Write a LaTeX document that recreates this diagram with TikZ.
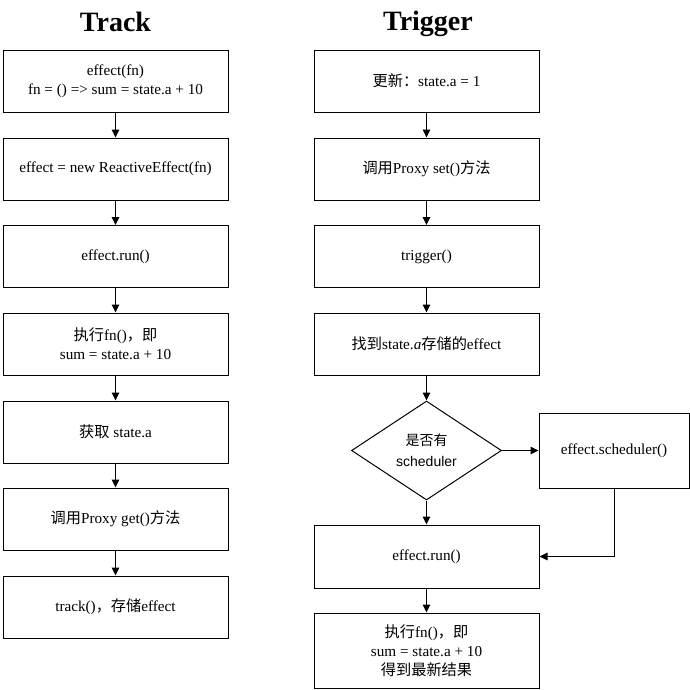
\documentclass[tikz,border=0pt]{standalone}
\usepackage{fontspec}
\setmainfont{Liberation Serif}
\setsansfont{Liberation Sans}
\newfontfamily\cjk{Noto Sans CJK SC}
\usetikzlibrary{shapes.geometric,arrows.meta}
\begin{document}
\begin{tikzpicture}[x=1pt,y=-1pt,
  box/.style={draw,line width=1pt,inner sep=0pt,minimum width=225pt,minimum height=62pt,align=center,font=\fontsize{15.2}{19}\selectfont},
  dec/.style={draw,diamond,line width=1pt,inner sep=0pt,minimum width=150pt,minimum height=99pt,align=center,font=\sffamily\fontsize{14}{21}\selectfont},
  ttl/.style={font=\bfseries\fontsize{28}{32}\selectfont,anchor=base},
  arr/.style={line width=1pt,-{Triangle[length=8pt,width=7.5pt]}}]
\useasboundingbox (0,0) rectangle (690,689);
\node[ttl] (t1) at (115.5,31) {Track};
\node[ttl] (t2) at (428,30) {Trigger};
% left column
\node[box] (a1) at (115.5,81) {effect(fn)\\fn = () => sum = state.a + 10};
\node[box] (a2) at (115.5,169) {effect = new ReactiveEffect(fn)};
\node[box] (a3) at (115.5,256.5) {effect.run()};
\node[box] (a4) at (115.5,344) {{\cjk 执行}fn(){\cjk ，即}\\sum = state.a + 10};
\node[box] (a5) at (115.5,432) {{\cjk 获取} state.a};
\node[box] (a6) at (115.5,519) {{\cjk 调用}Proxy get(){\cjk 方法}};
\node[box] (a7) at (115.5,607) {track(){\cjk ，存储}effect};
% right column
\node[box] (b1) at (426.5,81) {{\cjk 更新：}state.a = 1};
\node[box] (b2) at (426.5,169) {{\cjk 调用}Proxy set(){\cjk 方法}};
\node[box] (b3) at (426.5,256.5) {trigger()};
\node[box] (b4) at (426.5,344) {{\cjk 找到}state.\textit{a}{\cjk 存储的}effect};
\node[dec] (d) at (426.5,450.5) {{\cjk 是否有}\\scheduler};
\node[box,minimum width=150pt,minimum height=75pt] (s) at (614,450.5) {effect.scheduler()};
\node[box,minimum height=63pt] (r) at (426.5,556.5) {effect.run()};
\node[box,minimum height=75pt] (f) at (426.5,650.5) {{\cjk 执行}fn(){\cjk ，即}\\sum = state.a + 10\\{\cjk 得到最新结果}};
% connectors
\draw[arr] (a1) -- (a2);
\draw[arr] (a2) -- (a3);
\draw[arr] (a3) -- (a4);
\draw[arr] (a4) -- (a5);
\draw[arr] (a5) -- (a6);
\draw[arr] (a6) -- (a7);
\draw[arr] (b1) -- (b2);
\draw[arr] (b2) -- (b3);
\draw[arr] (b3) -- (b4);
\draw[arr] (b4.south) -- (d.north);
\draw[arr] (d.east) -- (s.west);
\draw[arr] (d.south) -- (r.north);
\draw[arr] (s.south) |- (r.east);
\draw[arr] (r) -- (f);
\end{tikzpicture}
\end{document}
